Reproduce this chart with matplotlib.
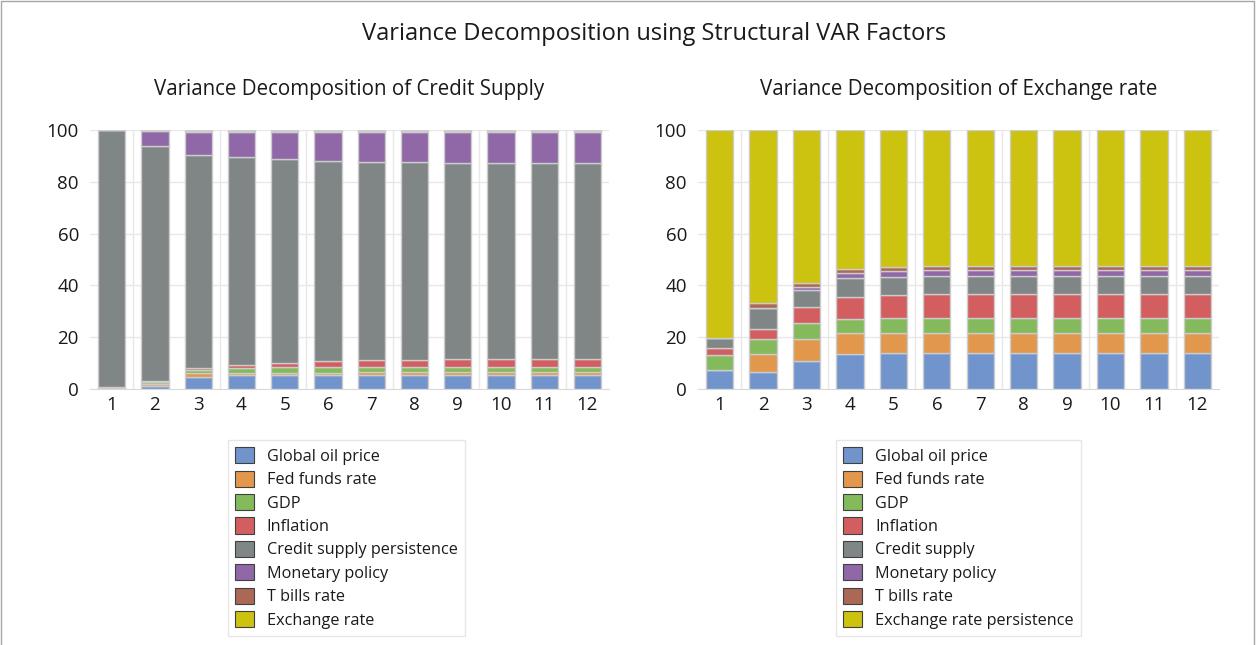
import numpy as np
import matplotlib.pyplot as plt
from matplotlib.patches import Patch, Rectangle

plt.rcParams['font.family'] = ['Open Sans', 'DejaVu Sans']
plt.rcParams['text.color'] = '#1a1a1a'

periods = [str(i) for i in range(1, 13)]

# Variance decomposition of credit supply (%)
cs_oil = [0.1, 1.0, 4.8, 5.2, 5.2, 5.3, 5.4, 5.4, 5.4, 5.4, 5.4, 5.4]
cs_fed = [0.1, 1.0, 1.3, 1.1, 1.1, 1.0, 1.0, 1.0, 1.0, 1.0, 1.0, 1.0]
cs_gdp = [0.5, 0.6, 1.2, 1.9, 2.0, 2.0, 2.0, 2.0, 2.0, 2.0, 2.0, 2.0]
cs_infl = [0.1, 0.4, 0.9, 1.0, 1.7, 2.4, 2.6, 2.9, 3.3, 3.3, 3.3, 3.3]
cs_credit = [99.0, 90.8, 82.0, 80.2, 78.7, 77.2, 76.6, 76.2, 75.7, 75.7, 75.7, 75.7]
cs_monetary = [0.1, 5.8, 8.8, 9.6, 10.3, 11.1, 11.4, 11.5, 11.6, 11.6, 11.6, 11.6]
cs_tbills = [0.05, 0.2, 0.5, 0.5, 0.5, 0.5, 0.5, 0.5, 0.5, 0.5, 0.5, 0.5]
cs_exch = [0.05, 0.2, 0.5, 0.5, 0.5, 0.5, 0.5, 0.5, 0.5, 0.5, 0.5, 0.5]

# Variance decomposition of exchange rate (%)
er_oil = [7.2, 6.6, 10.8, 13.5, 13.9, 13.9, 13.9, 13.9, 13.9, 13.9, 13.9, 13.9]
er_fed = [0.2, 6.8, 8.4, 8.1, 7.7, 7.7, 7.7, 7.7, 7.7, 7.7, 7.7, 7.7]
er_gdp = [5.7, 6.0, 6.1, 5.4, 5.6, 5.8, 5.8, 5.8, 5.8, 5.8, 5.8, 5.8]
er_infl = [2.7, 3.8, 6.2, 8.6, 9.1, 9.3, 9.3, 9.3, 9.3, 9.3, 9.3, 9.3]
er_credit = [3.7, 7.9, 6.8, 7.4, 7.0, 7.0, 7.0, 7.0, 7.0, 7.0, 7.0, 7.0]
er_monetary = [0.1, 0.3, 0.9, 1.9, 2.1, 2.1, 2.1, 2.1, 2.1, 2.1, 2.1, 2.1]
er_tbills = [0.1, 1.8, 1.8, 1.5, 1.7, 1.5, 1.5, 1.5, 1.5, 1.5, 1.5, 1.5]
er_exch = [80.3, 66.8, 59.0, 53.6, 52.9, 52.7, 52.7, 52.7, 52.7, 52.7, 52.7, 52.7]

colors = ['#7294cc', '#e1974c', '#84ba5b', '#d35e60',
          '#808585', '#9067a7', '#ab6857', '#ccc210']

cs_labels = ['Global oil price', 'Fed funds rate', 'GDP', 'Inflation',
             'Credit supply persistence', 'Monetary policy', 'T bills rate', 'Exchange rate']
er_labels = ['Global oil price', 'Fed funds rate', 'GDP', 'Inflation',
             'Credit supply', 'Monetary policy', 'T bills rate', 'Exchange rate persistence']

cs_series = [cs_oil, cs_fed, cs_gdp, cs_infl, cs_credit, cs_monetary, cs_tbills, cs_exch]
er_series = [er_oil, er_fed, er_gdp, er_infl, er_credit, er_monetary, er_tbills, er_exch]

fig = plt.figure(figsize=(12.57, 6.45), dpi=100)
fig.patches.append(Rectangle((0.001, -0.01), 0.997, 1.008, transform=fig.transFigure,
                             fill=False, edgecolor='#a6a6a6', linewidth=1))

fig.text(0.52, 0.947, 'Variance Decomposition using Structural VAR Factors',
         ha='center', va='center', fontsize=17)

ax1 = fig.add_axes([0.0716, 0.397, 0.4129, 0.4016])
ax2 = fig.add_axes([0.5553, 0.397, 0.4145, 0.4016])


def draw(ax, series, title):
    x = np.arange(len(periods))
    bottom = np.zeros(len(periods))
    for vals, c in zip(series, colors):
        ax.bar(x, vals, 0.63, bottom=bottom, color=c, edgecolor='#cccccc',
               linewidth=1, zorder=3)
        bottom = bottom + np.array(vals)
    ax.set_xlim(-0.5, len(periods) - 0.5)
    ax.set_ylim(0, 100)
    ax.set_yticks([0, 20, 40, 60, 80, 100])
    ax.set_xticks(x)
    ax.set_xticklabels(periods)
    for v in [20, 40, 60, 80, 100]:
        ax.axhline(v, color='#e8e8e8', linewidth=1, zorder=1)
    for v in np.arange(0.5, len(periods), 2):
        ax.axvline(v, color='#e8e8e8', linewidth=1, zorder=1)
    for s in ['top', 'right', 'left']:
        ax.spines[s].set_visible(False)
    ax.spines['bottom'].set_color('#d9d9d9')
    ax.tick_params(length=0, labelsize=13.5, pad=8, labelcolor='#1a1a1a')
    ax.tick_params(axis='x', pad=5)
    ax.set_title(title, fontsize=14.8, pad=25)


draw(ax1, cs_series, 'Variance Decomposition of Credit Supply')
draw(ax2, er_series, 'Variance Decomposition of Exchange rate')


def add_legend(labels, xpos):
    handles = [Patch(facecolor=c, edgecolor='#404040', linewidth=0.8, label=l)
               for c, l in zip(colors, labels)]
    leg = fig.legend(handles=handles, loc='upper left', bbox_to_anchor=(xpos, 0.318),
                     fontsize=11.7, frameon=True, fancybox=False, edgecolor='#e0e0e0',
                     handlelength=1.15, handleheight=1.15, handletextpad=0.8,
                     labelspacing=0.36, borderpad=0.45, borderaxespad=0)
    leg.get_frame().set_linewidth(1)


add_legend(cs_labels, 0.181)
add_legend(er_labels, 0.665)

fig.savefig('out.png', dpi=100)
